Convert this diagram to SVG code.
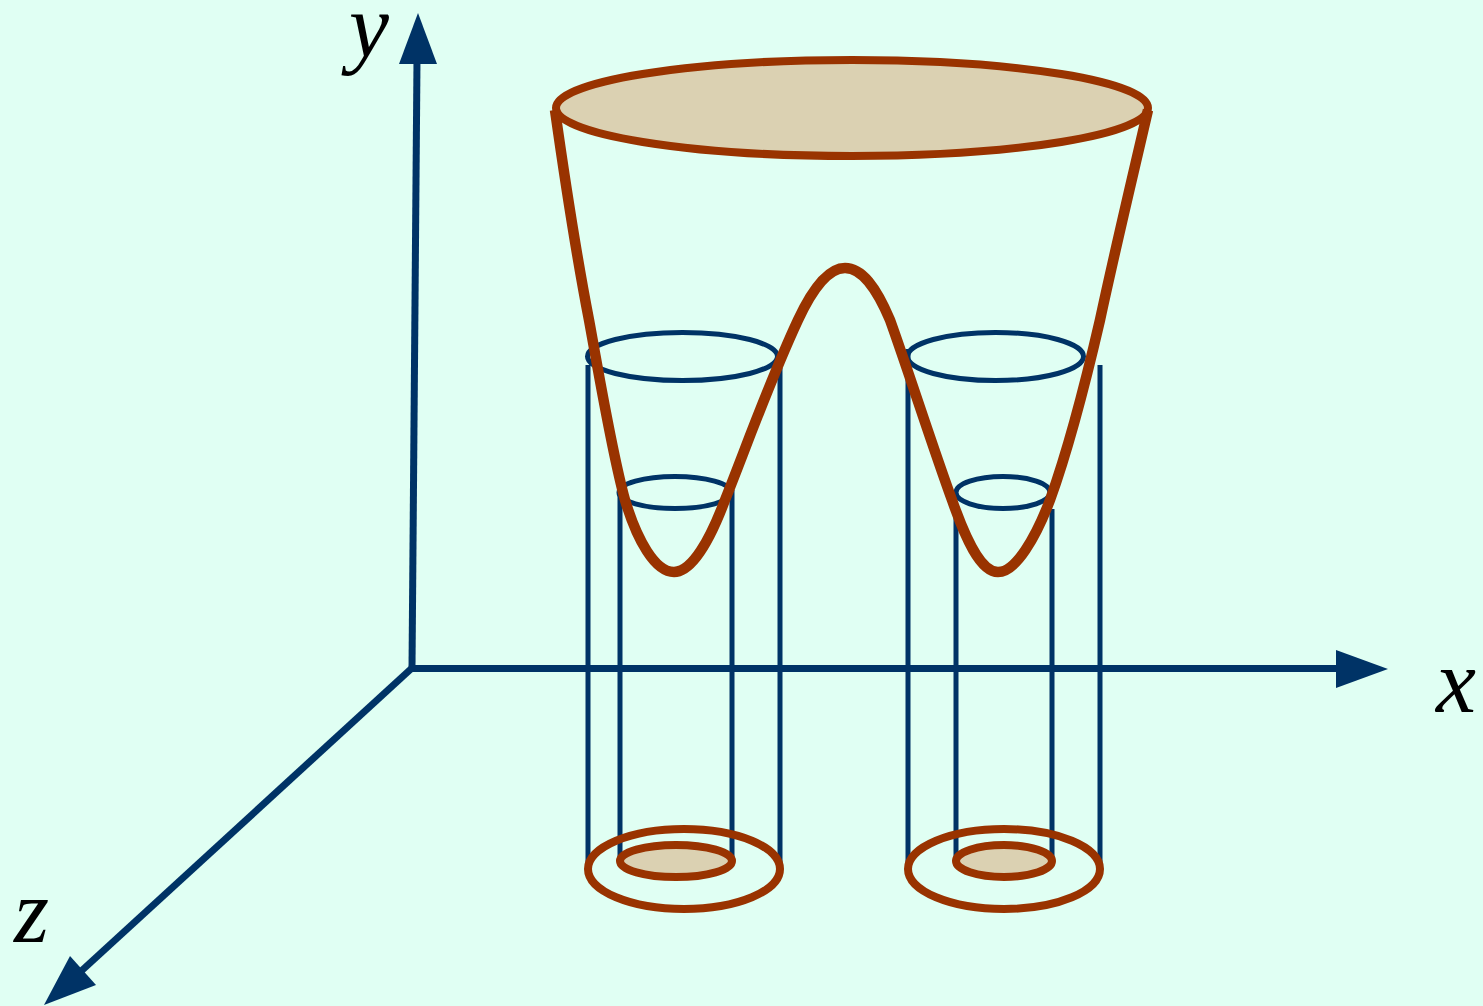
<svg xmlns="http://www.w3.org/2000/svg" width="1483" height="1006" viewBox="0 0 1483 1006">
<style>
.blue{fill:none;stroke:#003366;stroke-width:5}
.axis{fill:none;stroke:#003366;stroke-width:7}
.head{fill:#003366;stroke:none}
.red{fill:none;stroke:#993300;stroke-width:8;stroke-linejoin:round}
.curve{fill:none;stroke:#993300;stroke-width:10.500;stroke-linejoin:round}
.redf{fill:#DBD1B2;stroke:#993300;stroke-width:8}
.lab{font-family:"Liberation Serif",serif;font-style:italic;font-size:90px;fill:#000}
</style>
<rect width="1483" height="1006" fill="#E0FFF3"/>
<g id="connectors">
<path class="axis" d="M412 668L417 60"/>
<polygon class="head" points="418,13 399,64 437,64"/>
<path class="axis" d="M409 668.500H1340"/>
<polygon class="head" points="1388,669 1336,650 1336,688"/>
<path class="axis" d="M412 668L78 974"/>
<polygon class="head" points="44,1005 70,956 96,985"/>
<g id="drop-lines">
<path class="blue" d="M588 365V866M780 368V866M620 490V860M732 490V860M908 349V866M1100 365V866M956 510V860M1052 509V860"/>
</g>
</g>
<g id="rings-upper">
<ellipse class="blue" cx="682.500" cy="356.500" rx="95" ry="24"/>
<ellipse class="blue" cx="675" cy="492.500" rx="56" ry="16"/>
<ellipse class="blue" cx="995.500" cy="356.500" rx="88" ry="24"/>
<ellipse class="blue" cx="1003" cy="492.500" rx="47" ry="16"/>
</g>
<g id="top-disc"><ellipse class="redf" cx="852" cy="108" rx="296" ry="48"/></g>
<g id="potential-curve">
<path class="curve" d="M555 110C566 188 577 258 589 320C600 380 612 453 625 500C637 540 655 572 674 572C692 572 710 540 725 500C745 450 770 380 798 320C812 290 828 268 845 268C862 268 876 287 890 320C908 370 932 445 952 500C965 537 980 572 998 572C1016 572 1036 537 1050 500C1068 450 1085 385 1100 320C1115 250 1133 175 1148 110"/>
</g>
<g id="base-left">
<ellipse class="red" cx="684" cy="869" rx="96" ry="40"/>
<ellipse class="redf" cx="676" cy="861" rx="56" ry="16"/>
</g>
<g id="base-right">
<ellipse class="red" cx="1004" cy="869" rx="96" ry="40"/>
<ellipse class="redf" cx="1004" cy="861" rx="48" ry="16"/>
</g>
<g id="labels">
<text class="lab" x="349" y="57">y</text>
<text class="lab" x="1436" y="712">x</text>
<text class="lab" x="14" y="942">z</text>
</g>
</svg>
